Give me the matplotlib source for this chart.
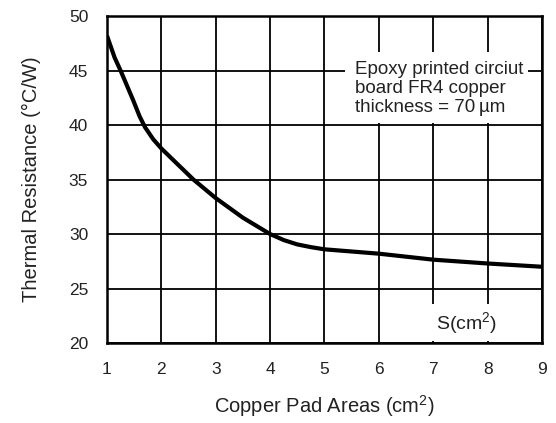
import matplotlib
matplotlib.use('Agg')
import matplotlib.pyplot as plt
from matplotlib.patches import Rectangle

plt.rcParams['font.family'] = ['Liberation Sans', 'DejaVu Sans']
plt.rcParams['mathtext.fontset'] = 'custom'
plt.rcParams['mathtext.rm'] = 'Liberation Sans'
plt.rcParams['mathtext.it'] = 'Liberation Sans'

# Dades llegides del gràfic
area = [1, 1.14, 1.25, 1.48, 1.6, 1.7, 1.85, 2, 2.3, 2.59, 3, 3.5, 4, 4.25, 4.5, 4.75,
        5, 5.5, 6, 7, 8, 9]
resist = [48.2, 46.2, 45.0, 42.3, 40.8, 39.8, 38.7, 37.85, 36.4, 35.0, 33.3, 31.5, 30.0,
          29.45, 29.05, 28.8, 28.6, 28.4, 28.2, 27.65, 27.3, 27.0]
xticks = [1, 2, 3, 4, 5, 6, 7, 8, 9]
yticks = [20, 25, 30, 35, 40, 45, 50]

fig = plt.figure(figsize=(5.56, 4.23), dpi=100)
ax = fig.add_axes([0.1924, 0.189, 0.7824, 0.773])

ax.plot(area, resist, color='black', lw=3, solid_capstyle='butt',
        solid_joinstyle='round', zorder=4)

ax.set_xlim(1, 9)
ax.set_ylim(20, 50)
ax.set_xticks(xticks)
ax.set_yticks(yticks)
ax.grid(True, color='black', lw=1.3)
ax.set_axisbelow(True)
ax.tick_params(length=0, labelsize=12.5, pad=13.5, labelcolor='#222222')
for s in ax.spines.values():
    s.set_linewidth(1.8)
    s.set_zorder(5)

# Quadre blanc del text
ax.add_patch(Rectangle((0.547, 0.673), 0.421, 0.217, transform=ax.transAxes,
                       facecolor='white', edgecolor='none', zorder=2))
ax.text(5.56, 45.9, 'Epoxy printed circiut\nboard FR4 copper\nthickness = 70\u2009µm',
        fontsize=13.5, va='top', ha='left', linespacing=1.15, zorder=3, color='#222222')

ax.text(7.62, 21.85, 'S(cm$^2$)', fontsize=14, ha='center', va='center', zorder=3,
        color='#222222', bbox=dict(facecolor='white', edgecolor='none', pad=4))

ax.set_xlabel('Copper Pad Areas (cm$^2$)', fontsize=14.5, labelpad=12, color='#222222')
ax.set_ylabel('Thermal Resistance (°C/W)', fontsize=14.5, labelpad=20, color='#222222')

plt.savefig('out.png', dpi=100)
